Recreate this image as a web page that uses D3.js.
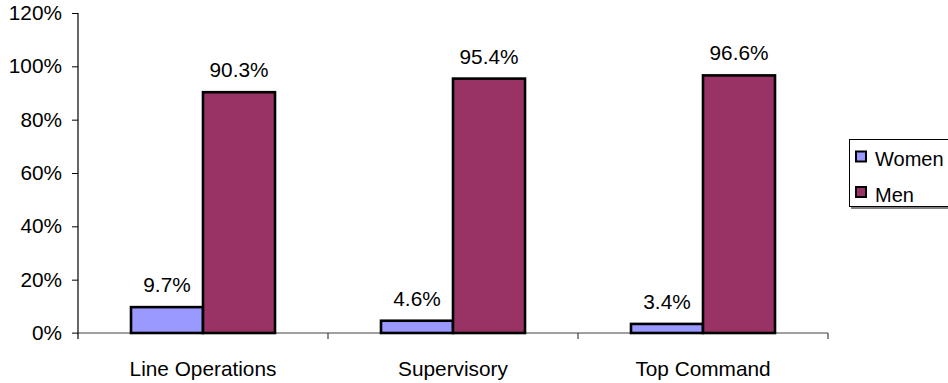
<!DOCTYPE html>
<html>
<head>
<meta charset="utf-8">
<script src="https://cdn.jsdelivr.net/npm/d3@7"></script>
<style>
  html, body { margin: 0; padding: 0; background: #fff; }
  svg { display: block; font-family: "Liberation Sans", Arial, sans-serif; }
</style>
</head>
<body>
<svg id="chart" width="948" height="383"></svg>
<script>
// Share of staff by rank level, split by gender
const categories = ["Line Operations", "Supervisory", "Top Command"];
const seriesNames = ["Women", "Men"];
const women = [0.097, 0.046, 0.034];
const men = [0.903, 0.954, 0.966];
const yTicks = [0, 0.2, 0.4, 0.6, 0.8, 1.0, 1.2];
const colors = ["#9999FF", "#993366"];

const seriesValues = [women, men];
const svg = d3.select("#chart");

const plot = { left: 78, right: 828, top: 13, bottom: 333 };
const fontSize = 20.8;

const y = d3.scaleLinear().domain([0, 1.2]).range([plot.bottom, plot.top]);
const x0 = d3.scaleBand().domain(categories).range([plot.left, plot.right]).padding(0);
const x1 = d3.scaleBand().domain(seriesNames).range([0, x0.bandwidth()])
  .paddingInner(0).paddingOuter(0.736);

const fmt = d3.format(".1%");

// Y axis
const yAxis = d3.axisLeft(y).tickValues(yTicks).tickFormat(d3.format(".0%"))
  .tickSize(6).tickPadding(10);
const gy = svg.append("g").attr("transform", `translate(${plot.left},0)`).call(yAxis);
gy.select(".domain").remove();
gy.selectAll(".tick line").attr("stroke", "#000");
gy.selectAll(".tick text").attr("font-size", fontSize).attr("fill", "#000")
  .attr("font-family", "Liberation Sans, Arial, sans-serif");

// X axis baseline and category separators
svg.append("line")
  .attr("x1", plot.left - 6).attr("x2", plot.right)
  .attr("y1", y(0)).attr("y2", y(0))
  .attr("stroke", "#808080").attr("stroke-width", 1.5);

const separators = [plot.left].concat(categories.map(c => x0(c) + x0.bandwidth()));
svg.append("g").selectAll("line").data(separators).join("line")
  .attr("x1", d => d).attr("x2", d => d)
  .attr("y1", y(0)).attr("y2", y(0) + 6)
  .attr("stroke", d => d === plot.left ? "#000" : "#404040")
  .attr("stroke-width", 1.2);

// Y axis line
svg.append("line")
  .attr("x1", plot.left).attr("x2", plot.left)
  .attr("y1", plot.top).attr("y2", y(0))
  .attr("stroke", "#000").attr("stroke-width", 1.2);

// Category labels
svg.append("g").selectAll("text").data(categories).join("text")
  .attr("x", d => x0(d) + x0.bandwidth() / 2)
  .attr("y", 376)
  .attr("text-anchor", "middle")
  .attr("font-size", fontSize)
  .attr("fill", "#000")
  .text(d => d);

// Bars
const groups = svg.append("g").selectAll("g").data(categories).join("g")
  .attr("transform", d => `translate(${x0(d)},0)`);

groups.selectAll("rect")
  .data((c, i) => seriesNames.map((s, j) => ({ s, j, v: seriesValues[j][i] })))
  .join("rect")
  .attr("x", d => x1(d.s))
  .attr("y", d => y(d.v))
  .attr("width", x1.bandwidth())
  .attr("height", d => y(0) - y(d.v))
  .attr("fill", d => colors[d.j])
  .attr("stroke", "#000")
  .attr("stroke-width", 2.6);

// Value labels
groups.selectAll("text.val")
  .data((c, i) => seriesNames.map((s, j) => ({ s, j, v: seriesValues[j][i] })))
  .join("text")
  .attr("class", "val")
  .attr("x", d => x1(d.s) + x1.bandwidth() / 2)
  .attr("y", d => y(d.v) - 15)
  .attr("text-anchor", "middle")
  .attr("font-size", fontSize)
  .attr("fill", "#000")
  .text(d => fmt(d.v));

// Legend
const legend = svg.append("g");
legend.append("rect")
  .attr("x", 851).attr("y", 141).attr("width", 110).attr("height", 68)
  .attr("fill", "#808080");
legend.append("rect")
  .attr("x", 849.5).attr("y", 139.5).attr("width", 110).attr("height", 67)
  .attr("fill", "#fff").attr("stroke", "#000").attr("stroke-width", 1);

const items = legend.selectAll("g.item").data(seriesNames).join("g")
  .attr("class", "item")
  .attr("transform", (d, i) => `translate(0,${i * 35.5})`);
items.append("rect")
  .attr("x", 856).attr("y", 151.5).attr("width", 10).attr("height", 10)
  .attr("fill", (d, i) => colors[i])
  .attr("stroke", "#000").attr("stroke-width", 2);
items.append("text")
  .attr("x", 875).attr("y", 166)
  .attr("font-size", 20)
  .attr("fill", "#000")
  .text(d => d);
</script>
</body>
</html>
